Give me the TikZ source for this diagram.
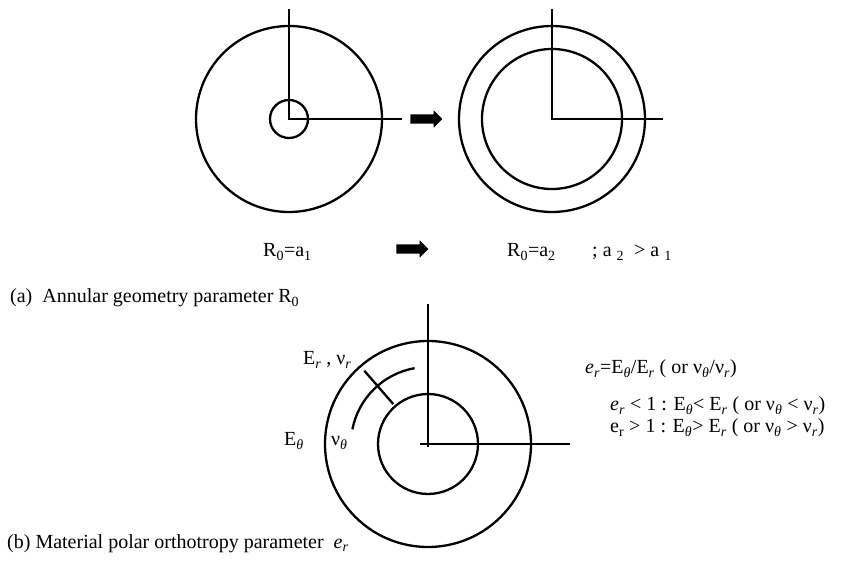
\documentclass[tikz,border=0pt]{standalone}
\usepackage{fontspec}
\setmainfont{Liberation Serif}
\usetikzlibrary{shapes.arrows, calc}

\newcommand{\lo}[1]{\textsubscript{#1}}

\begin{document}
\begin{tikzpicture}[
    x=1pt, y=-1pt,
    ring/.style={line width=2.3pt},
    axis/.style={line width=2.3pt},
    bigarrow/.style={single arrow, fill=black, draw=none, inner sep=4.5pt,
        minimum height=32pt, single arrow head extend=4pt},
    label/.style={font=\fontsize{20}{22}\selectfont, inner sep=0pt, anchor=base west}
]
\useasboundingbox (0,0) rectangle (855,569);

% (a) 环形几何参数
\coordinate (cA) at (289,119);
\coordinate (cB) at (552,119);
\coordinate (topA) at (289,9);
\coordinate (endA) at (402,119);
\coordinate (topB) at (552,9);
\coordinate (endB) at (663,119);

% 左图：小孔
\draw[ring] (cA) circle[radius=93];
\draw[ring] (cA) circle[radius=19];
\draw[axis] (topA) -- (cA) -- (endA);

\node[bigarrow] (arrTop) at (424,119) {};

% 右图：大孔
\draw[ring] (cB) circle[radius=93];
\draw[ring] (cB) circle[radius=70];
\draw[axis] (topB) -- (cB) -- (endB);

% 标注
\node[label] (ra1) at (263,257) {R\lo{0}=a\lo{1}};
\node[bigarrow] (arrLow) at (410,249) {};
\node[label] (ra2) at (507,257) {R\lo{0}=a\lo{2}};
\node[label] (cmp) at (592,257) {; a \lo{2}\ \ > a \lo{1}};
\node[label] (capA) at (10,303) {(a)\ \ Annular geometry parameter R\lo{0}};

% (b) 材料极正交各向异性参数
\coordinate (cC) at (428,444);
\coordinate (topC) at (428,304);
\coordinate (botC) at (428,447);
\coordinate (westC) at (420,444);
\coordinate (endC) at (570,444);

\draw[ring] (cC) circle[radius=103];
\draw[ring] (cC) circle[radius=50];
\draw[axis] (topC) -- (botC);
\draw[axis] (westC) -- (endC);

% 方向示意：环向弧线与径向短线
\draw[axis] ($(cC)+(-169:77)$) arc[start angle=-169, end angle=-100, radius=77];
\draw[axis] ($(cC)+(-131:53)$) -- ($(cC)+(-131:97)$);

\node[label] (erv) at (303,365) {E\lo{\textit{r}} , ν\lo{\textit{r}}};
\node[label] (eth) at (284,446) {E\lo{\textit{θ}}};
\node[label] (nth) at (331,446) {ν\lo{\textit{θ}}};

\node[label] (ratio) at (585,374) {\textit{e}\lo{\textit{r}}=E\lo{\textit{θ}}/E\lo{\textit{r}} ( or ν\lo{\textit{θ}}/ν\lo{\textit{r}})};
\node[label] (less) at (610,411) {\textit{e}\lo{\textit{r}} < 1 : E\lo{\textit{θ}}< E\lo{\textit{r}} ( or ν\lo{\textit{θ}} < ν\lo{\textit{r}})};
\node[label] (more) at (610,433) {e\lo{r} > 1 : E\lo{\textit{θ}}> E\lo{\textit{r}} ( or ν\lo{\textit{θ}} > ν\lo{\textit{r}})};

\node[label] (capB) at (7,548) {(b) Material polar orthotropy parameter \ \textit{e}\lo{\textit{r}}};
\end{tikzpicture}
\end{document}
